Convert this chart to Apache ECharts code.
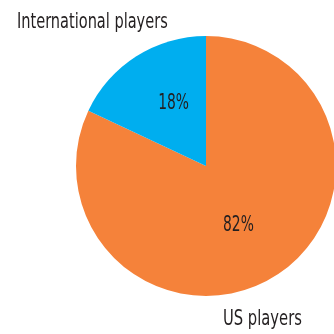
<!DOCTYPE html>
<html><head><meta charset="utf-8">
<script src="https://cdn.jsdelivr.net/npm/echarts@6/dist/echarts.min.js"></script>
<style>html,body{margin:0;padding:0;background:#fff}#c{width:334px;height:334px}</style>
</head><body><div id="c"></div>
<script>
var categories = ['US players', 'International players'];
var values = [82, 18];
var colors = ['#F5823A', '#00AEEF'];
var FONT = '"DejaVu Sans Condensed","Liberation Sans Narrow",sans-serif';

var chart = echarts.init(document.getElementById('c'), null, {renderer: 'canvas'});
var labelOffsets = [[-4, 2], [4, -5]];
chart.setOption({
  animation: false,
  series: [{
    type: 'pie',
    center: [206, 166],
    radius: 130,
    startAngle: 90,
    clockwise: true,
    silent: true,
    data: categories.map(function (c, i) {
      return {name: c, value: values[i], itemStyle: {color: colors[i]},
              label: {offset: labelOffsets[i]}};
    }),
    label: {
      show: true,
      position: 'inside',
      formatter: function (p) { return p.value + '%'; },
      fontFamily: FONT,
      fontSize: 22,
      color: '#231F20'
    },
    labelLine: {show: false}
  }],
  graphic: [
    {type: 'text', x: 17, y: 11, scaleX: 0.735, style: {text: categories[1], font: '22px ' + FONT, fill: '#231F20'}},
    {type: 'text', x: 223, y: 308, scaleX: 0.745, style: {text: categories[0], font: '22px ' + FONT, fill: '#231F20'}}
  ]
});
// condense the percentage labels (reference uses a condensed face)
var zr = chart.getZr();
function visit(el) {
  var tc = el.getTextContent && el.getTextContent();
  if (tc && tc.style && typeof tc.style.text === 'string' && /%$/.test(tc.style.text)) {
    tc.scaleX = 0.7;
    tc.markRedraw();
    el.markRedraw();
  }
  if (el.type === 'text' && el.style && typeof el.style.text === 'string' && /%$/.test(el.style.text)) {
    el.scaleX = 0.7;
    el.markRedraw();
  }
}
zr.storage.getRoots().forEach(function (root) {
  visit(root);
  root.traverse && root.traverse(visit);
});
zr.refreshImmediately();
</script></body></html>
